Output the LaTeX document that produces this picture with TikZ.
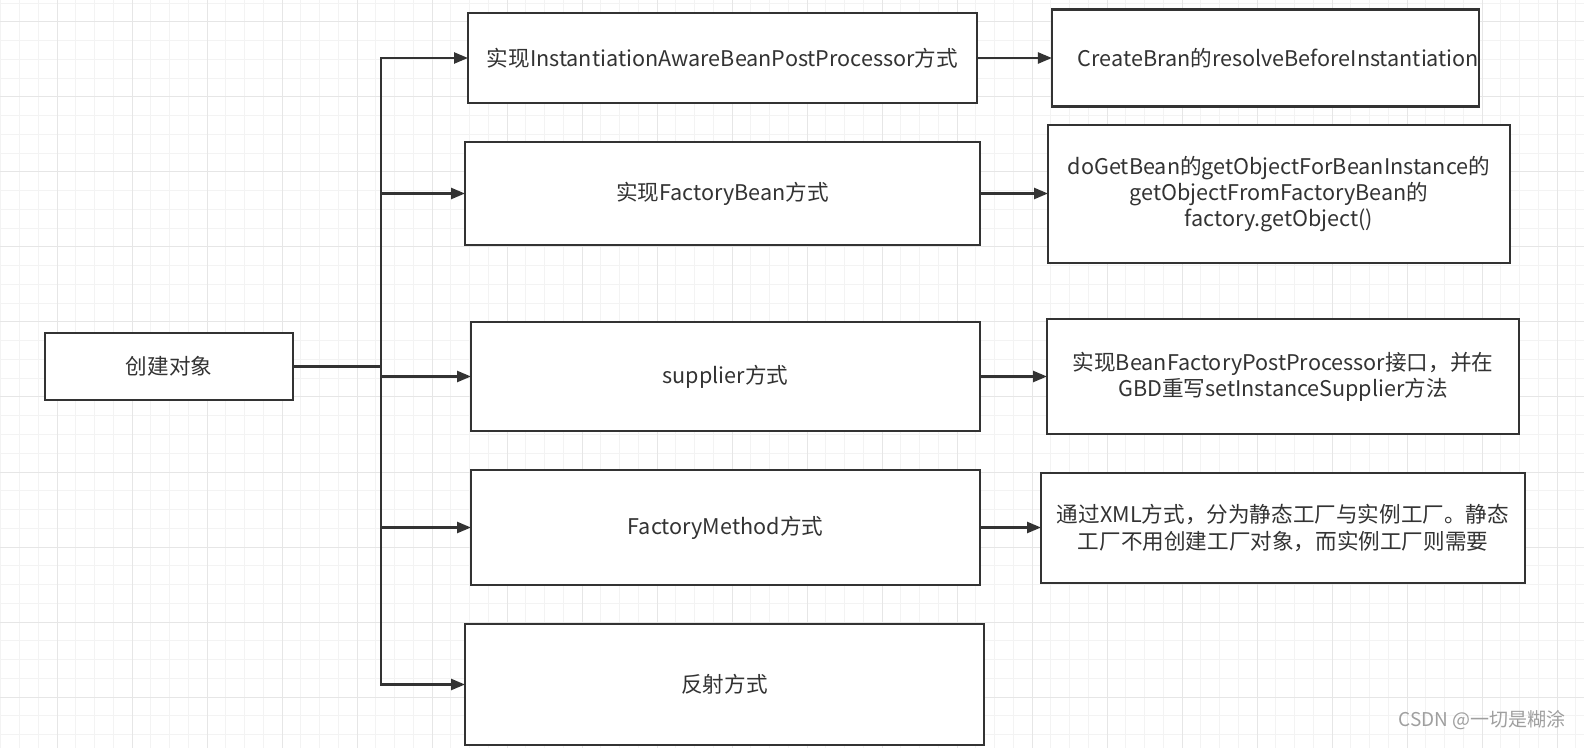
\documentclass[tikz,border=0pt]{standalone}
\usepackage{fontspec}
\setmainfont{Noto Sans CJK SC}
\usetikzlibrary{arrows.meta}

\definecolor{ink}{HTML}{333333}
\definecolor{gridminor}{HTML}{F3F3F3}
\definecolor{gridmajor}{HTML}{E6E6E6}

\tikzstyle{box}=[draw=ink, line width=1.2pt, fill=white, inner sep=0pt, outer sep=0pt, align=center, text=ink, font=\fontsize{10.8}{13.1}\selectfont]
\tikzstyle{arrow}=[draw=ink, line width=1.2pt, -{Triangle[length=7pt, width=5.5pt]}]

\begin{document}
\begin{tikzpicture}[x=0.5pt, y=-0.5pt]
      \useasboundingbox (0,0) rectangle (1584,748);
      \fill[white] (0,0) rectangle (1584,748);
      % grid
      \foreach \i in {0,...,84} \draw[gridminor, line width=0.5pt] ({0.75+18.75*\i},0) -- ++(0,748);
      \foreach \i in {0,...,39} \draw[gridminor, line width=0.5pt] (0,{3.25+18.75*\i}) -- ++(1584,0);
      \foreach \i in {0,...,20} \draw[gridmajor, line width=0.5pt] ({57+75*\i},0) -- ++(0,748);
      \foreach \i in {0,...,9} \draw[gridmajor, line width=0.5pt] (0,{22+75*\i}) -- ++(1584,0);

      \node[box, minimum width=124pt, minimum height=33.5pt] (start) at (169, 366.5) {创建对象};
      \node[box, minimum width=254.5pt, minimum height=45pt] (b1) at (722.5, 58) {实现InstantiationAwareBeanPostProcessor方式};
      \node[box, minimum width=257.5pt, minimum height=51.5pt] (b2) at (722.5, 193.5) {实现FactoryBean方式};
      \node[box, minimum width=254.5pt, minimum height=54.5pt] (b3) at (725.5, 376.5) {supplier方式};
      \node[box, minimum width=254.5pt, minimum height=57.5pt] (b4) at (725.5, 527.5) {FactoryMethod方式};
      \node[box, minimum width=259.5pt, minimum height=60.5pt] (b5) at (724.5, 684.5) {反射方式};

      \node[box, minimum width=213.5pt, minimum height=48.5pt] (r1) at (1265.5, 58) {\hspace*{13pt}CreateBran的resolveBeforeInstantiation};
      \node[box, minimum width=231pt, minimum height=69pt] (r2) at (1279, 194) {doGetBean的getObjectForBeanInstance的\\getObjectFromFactoryBean的\\factory.getObject()};
      \node[box, minimum width=236pt, minimum height=57.5pt] (r3) at (1283, 376.5) {实现BeanFactoryPostProcessor接口，并在\\GBD重写setInstanceSupplier方法};
      \node[box, minimum width=242pt, minimum height=55pt] (r4) at (1283, 528) {通过XML方式，分为静态工厂与实例工厂。静态\\工厂不用创建工厂对象，而实例工厂则需要};

      \node[text=gray!75, font=\fontsize{9.5}{11}\selectfont] (mark) at (1482, 720) {CSDN @一切是糊涂};

      \coordinate (trunk) at (381, 366.5);
      \draw[arrow] (start.east) -- (trunk) |- (b1.west);
      \draw[arrow] (start.east) -- (trunk) |- (b2.west);
      \draw[arrow] (start.east) -- (trunk) |- (b3.west);
      \draw[arrow] (start.east) -- (trunk) |- (b4.west);
      \draw[arrow] (start.east) -- (trunk) |- (b5.west);

      \draw[arrow] (b1.east) -- (b1.east -| r1.west);
      \draw[arrow] (b2.east) -- (b2.east -| r2.west);
      \draw[arrow] (b3.east) -- (b3.east -| r3.west);
      \draw[arrow] (b4.east) -- (b4.east -| r4.west);
\end{tikzpicture}
\end{document}
